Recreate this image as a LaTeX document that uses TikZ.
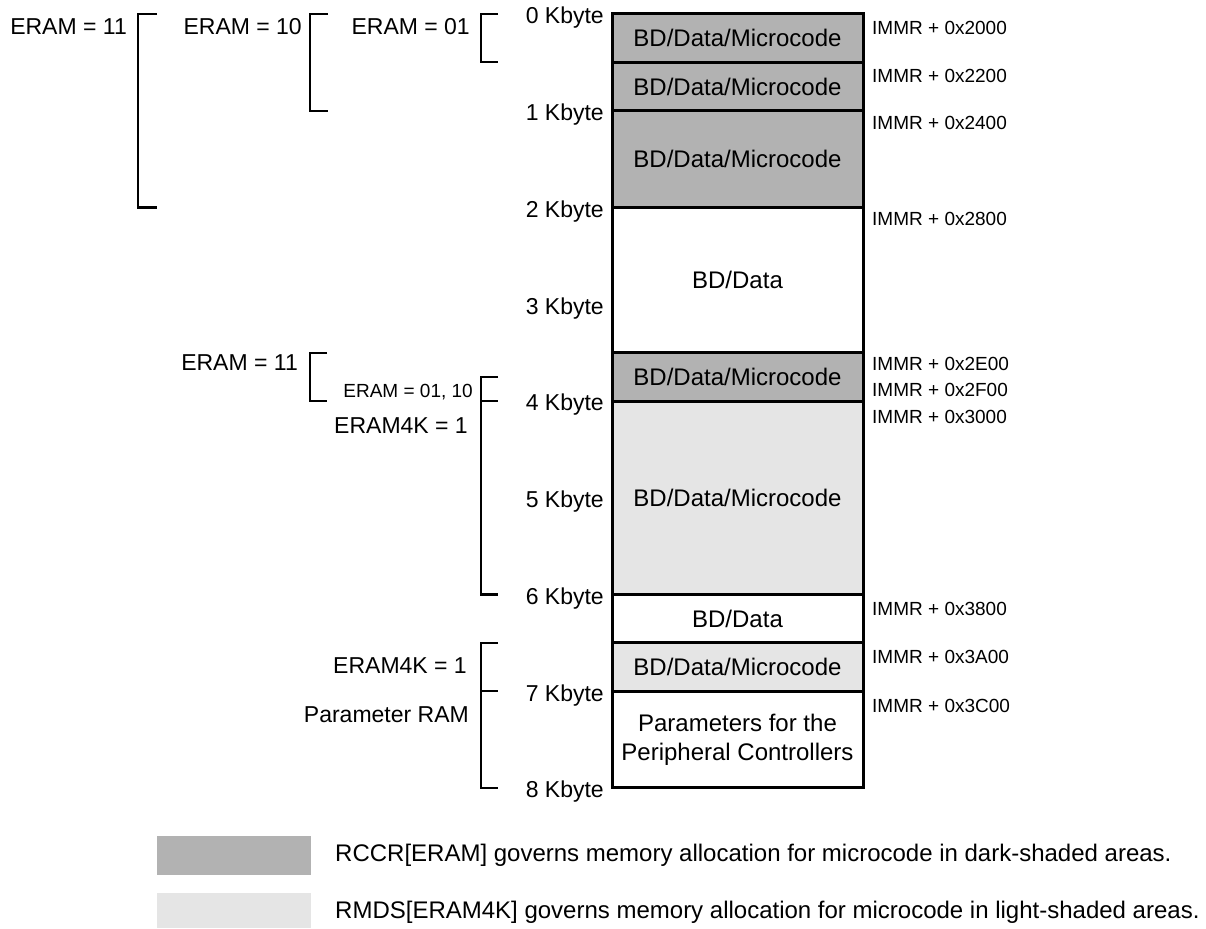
\documentclass[tikz,border=0pt]{standalone}
\usepackage{fontspec}
\setmainfont{Liberation Sans}
\usepackage{tikz}
\usetikzlibrary{positioning}

\definecolor{darkshade}{gray}{0.70}
\definecolor{lightshade}{gray}{0.90}

\begin{document}
\begin{tikzpicture}[
    x=1pt, y=-1pt,
    region/.style={draw, line width=3pt, minimum width=251pt, inner sep=0pt,
                   align=center, font=\fontsize{24}{29}\selectfont},
    kb/.style={anchor=east, inner sep=0pt, font=\fontsize{23}{27}\selectfont},
    addr/.style={anchor=west, inner sep=0pt, font=\fontsize{19}{22}\selectfont},
    lbl/.style={anchor=east, inner sep=0pt, font=\fontsize{23}{27}\selectfont},
    small/.style={anchor=east, inner sep=0pt, font=\fontsize{19}{22}\selectfont},
    brk/.style={line width=2.2pt},
    swatch/.style={minimum width=154pt, inner sep=0pt},
    keytext/.style={anchor=west, inner sep=0pt, font=\fontsize{24}{28}\selectfont}
  ]
  \useasboundingbox (0,0) rectangle (1206,928);

  % Speicherbereiche
  \node[region, fill=darkshade, minimum height=48.4pt] (r1) at (737.5, 38.2) {BD/Data/Microcode};
  \node[region, fill=darkshade, minimum height=48.4pt] (r2) at (737.5, 86.6) {BD/Data/Microcode};
  \node[region, fill=darkshade, minimum height=96.7pt] (r3) at (737.5, 159.2) {BD/Data/Microcode};
  \node[region, fill=white, minimum height=145.1pt] (r4) at (737.5, 280.0) {BD/Data};
  \node[region, fill=darkshade, minimum height=48.4pt] (r5) at (737.5, 376.8) {BD/Data/Microcode};
  \node[region, fill=lightshade, minimum height=193.5pt] (r6) at (737.5, 497.8) {BD/Data/Microcode};
  \node[region, fill=white, minimum height=48.4pt] (r7) at (737.5, 618.7) {BD/Data};
  \node[region, fill=lightshade, minimum height=48.4pt] (r8) at (737.5, 667.1) {BD/Data/Microcode};
  \node[region, fill=white, minimum height=96.7pt] (r9) at (737.5, 739.6) {Parameters for the\\Peripheral Controllers};

  % Kbyte-Marken links
  \foreach \k in {0,...,8}
    \node[kb] (kb\k) at (604, {18+96.75*\k}) {\k\ Kbyte};

  % Adressen rechts
  \foreach \y/\a [count=\i] in {28/2000, 76/2200, 123/2400, 219/2800, 364/2E00,
                                 390/2F00, 417/3000, 609/3800, 657/3A00, 706/3C00}
    \node[addr] (addr\i) at (872, \y) {IMMR + 0x\a};

  % Klammern oben
  \draw[brk] (157,14) -| (138,207.5) -- (157,207.5);
  \draw[brk] (328,14) -| (310,110.8) -- (328,110.8);
  \draw[brk] (498,14) -| (481,62.4) -- (498,62.4);
  \node[lbl] (eram11) at (127, 27) {ERAM = 11};
  \node[lbl] (eram10) at (302, 27) {ERAM = 10};
  \node[lbl] (eram01) at (470, 27) {ERAM = 01};

  % Klammern Mitte
  \draw[brk] (327,352.6) -| (310,401) -- (327,401);
  \draw[brk] (498,377) -| (481,594.5) -- (498,594.5);
  \draw[brk] (481,401) -- (498,401);
  \node[lbl] (eram11b) at (298, 363) {ERAM = 11};
  \node[small] (eram0110) at (473, 392) {ERAM = 01, 10};
  \node[lbl] (eram4ka) at (468, 426) {ERAM4K = 1};

  % Klammern unten
  \draw[brk] (498,642.9) -| (481,788) -- (498,788);
  \draw[brk] (481,691.3) -- (498,691.3);
  \node[lbl] (eram4kb) at (467, 666) {ERAM4K = 1};
  \node[lbl] (pram) at (469, 715) {Parameter RAM};

  % Legende
  \node[swatch, fill=darkshade, minimum height=39pt] (keydark) at (234, 855.5) {};
  \node[swatch, fill=lightshade, minimum height=35pt] (keylight) at (234, 910.5) {};
  \node[keytext] (keydarktext) at (335, 855) {RCCR[ERAM] governs memory allocation for microcode in dark-shaded areas.};
  \node[keytext] (keylighttext) at (335, 912) {RMDS[ERAM4K] governs memory allocation for microcode in light-shaded areas.};
\end{tikzpicture}
\end{document}
